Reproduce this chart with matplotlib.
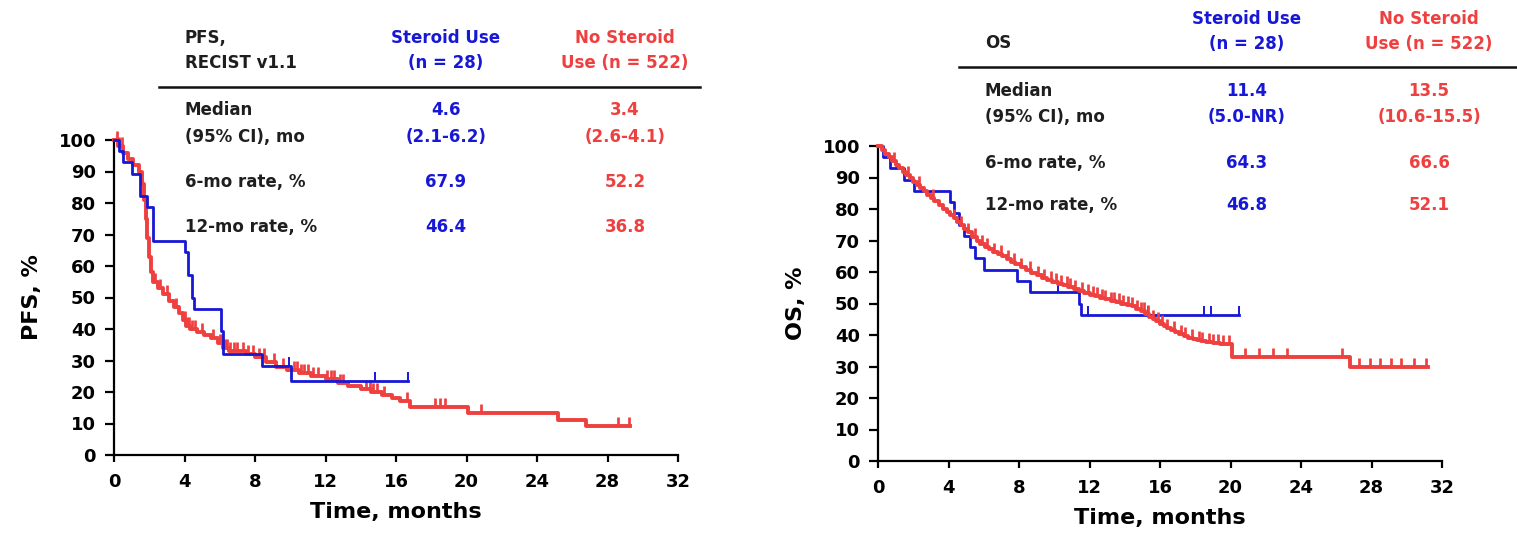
import numpy as np
import matplotlib
matplotlib.use("Agg")
import matplotlib.pyplot as plt

plt.rcParams['font.family'] = ['DejaVu Sans']
plt.rcParams['font.weight'] = 'bold'

BLUE = '#1717d6'
RED = '#ef4040'

# PFS, steroid use (step times in months, % after step)
pfs_st_t = [0, 0.3, 0.5, 1.0, 1.5, 1.9, 2.2, 4.0, 4.2, 4.4, 4.55, 6.05, 6.2, 8.4, 10.05, 16.7]
pfs_st_s = [100, 96.4, 92.9, 89.3, 82.1, 78.6, 67.9, 64.3, 57.1, 50.0, 46.4, 39.3, 32.1, 28.1, 23.4, 23.4]
pfs_st_cens = [9.95, 14.8, 16.7]

# PFS, no steroid use
pfs_no_t = [0, 0.2, 0.5, 0.8, 1.1, 1.4, 1.6, 1.7, 1.8, 1.9, 2.0, 2.1, 2.2, 2.5, 2.8, 3.1, 3.4,
            3.7, 3.9, 4.1, 4.3, 4.7, 5.1, 5.5, 5.9, 6.2, 6.5, 7.5, 8.0, 8.6, 9.2, 9.8, 10.5,
            11.2, 12.0, 12.7, 13.3, 14.0, 14.6, 15.2, 15.8, 16.2, 16.8, 20.1, 25.2, 26.8, 29.3]
pfs_no_s = [100, 98, 96, 94, 92, 90, 86, 81, 75, 69, 63, 58, 55, 53, 51, 49, 47,
            45, 43, 41, 40, 39, 38, 37, 35.5, 34, 33, 32, 31, 29.5, 28, 27, 26,
            25, 24, 23, 22, 21, 20, 19, 18, 17, 15.2, 13.4, 11.2, 9.2, 9.2]
pfs_no_cens = [0.15, 0.3, 0.45, 2.3, 2.6, 3.0, 3.5, 4.0, 4.15, 4.25, 4.4, 4.6, 5.0, 5.6, 6.0,
               6.1, 6.3, 6.4, 6.6, 6.8, 7.0, 7.3, 7.6, 7.9, 8.2, 8.5, 9.1, 9.6, 10.2, 10.4,
               10.6, 10.8, 11.0, 11.3, 11.6, 12.1, 12.3, 12.5, 12.8, 13.0, 14.3, 14.5, 14.7,
               14.9, 15.3, 16.6, 18.2, 18.5, 18.8, 20.8, 28.6, 29.2]

# OS, steroid use
os_st_t = [0, 0.3, 0.7, 1.5, 2.05, 4.1, 4.3, 4.6, 4.9, 5.2, 5.5, 6.0, 7.9, 8.6, 11.4, 11.5, 20.5]
os_st_s = [100, 96.4, 92.9, 89.3, 85.7, 82.1, 78.6, 75.0, 71.4, 67.9, 64.3, 60.7, 57.1, 53.6, 50.0, 46.4, 46.4]
os_st_cens = [10.2, 11.9, 15.3, 18.5, 18.9, 20.5]

# OS, no steroid use
os_no_t = [0, 0.2, 0.4, 0.6, 0.8, 1.0, 1.2, 1.4, 1.6, 1.8, 2.0, 2.2, 2.4, 2.6, 2.8, 3.0,
           3.2, 3.45, 3.7, 3.9, 4.1, 4.3, 4.5, 4.7, 4.9, 5.1, 5.35, 5.6, 5.8, 6.05, 6.3,
           6.55, 6.8, 7.05, 7.3, 7.55, 7.8, 8.1, 8.4, 8.7, 9.0, 9.3, 9.6, 9.9, 10.2, 10.5,
           10.8, 11.1, 11.4, 11.7, 12.0, 12.3, 12.6, 12.9, 13.2, 13.5, 13.8, 14.1, 14.4,
           14.65, 14.9, 15.15, 15.4, 15.6, 15.8, 16.0, 16.2, 16.4, 16.6, 16.85, 17.1,
           17.35, 17.6, 17.85, 18.1, 18.35, 18.6, 19.0, 19.4, 20.1, 26.8, 31.2]
os_no_s = [100, 98.8, 97.6, 96.4, 95.2, 94.1, 93, 91.9, 90.8, 89.7, 88.6, 87.6, 86.6, 85.6, 84.6, 83.6,
           82.6, 81.3, 80, 79, 78, 77, 76, 75, 73.8, 72.6, 71.2, 70, 69, 68, 67.3,
           66.5, 65.8, 65, 64.2, 63.3, 62.5, 61.5, 60.5, 59.7, 58.9, 58.2, 57.5, 56.9, 56.3, 55.8,
           55.2, 54.6, 54, 53.4, 52.8, 52.3, 51.8, 51.3, 50.8, 50.4, 50, 49.6, 49.1,
           48.3, 47.5, 46.6, 45.7, 45, 44.3, 43.6, 42.9, 42.3, 41.7, 41, 40.3,
           39.7, 39.2, 38.8, 38.4, 38.1, 37.8, 37.4, 37, 33, 30, 30]
os_no_cens = [0.9, 1.7, 2.3, 3.1, 4.3, 4.7, 5.1, 5.5, 5.9, 6.2, 6.6, 7.0, 7.4, 7.7, 8.1, 8.6,
              9.1, 9.4, 9.8, 10.1, 10.4, 10.7, 10.9, 11.2, 11.6, 11.9, 12.2, 12.4, 12.7, 12.9,
              13.2, 13.4, 13.7, 13.9, 14.2, 14.4, 14.7, 14.9, 15.1, 15.3, 15.6, 15.9, 16.1,
              16.4, 16.8, 17.2, 17.4, 17.8, 18.2, 18.4, 18.8, 19.0, 19.3, 19.6, 19.9, 20.8,
              21.6, 22.4, 23.2, 26.3, 27.3, 27.9, 28.5, 29.1, 29.7, 30.4, 31.1]

# tables
pfs_title = ["PFS,", "RECIST v1.1"]
os_title = ["OS"]
col_heads = [["Steroid Use", "(n = 28)"], ["No Steroid", "Use (n = 522)"]]
row_names = [["Median", "(95% CI), mo"], ["6-mo rate, %"], ["12-mo rate, %"]]
pfs_steroid = [["4.6", "(2.1-6.2)"], ["67.9"], ["46.4"]]
pfs_nosteroid = [["3.4", "(2.6-4.1)"], ["52.2"], ["36.8"]]
os_steroid = [["11.4", "(5.0-NR)"], ["64.3"], ["46.8"]]
os_nosteroid = [["13.5", "(10.6-15.5)"], ["66.6"], ["52.1"]]

W, H = 1517, 534
fig = plt.figure(figsize=(W / 100, H / 100), dpi=100)


def km(ax, t, s, cens, color, lw):
    t = np.array(t)
    s = np.array(s)
    ax.step(t, s, where='post', color=color, lw=lw, clip_on=False, zorder=3)
    c = np.array(cens)
    idx = np.searchsorted(t, c, side='right') - 1
    ax.plot(c, s[idx], ls='none', marker=[(0, 0), (0, 1)], ms=13, mew=lw * 0.7,
            color=color, clip_on=False, zorder=3)


def setup(ax, ylabel):
    ax.set_xlim(0, 32)
    ax.set_ylim(0, 100)
    ax.set_xticks(np.arange(0, 33, 4))
    ax.set_yticks(np.arange(0, 101, 10))
    for sp in ['top', 'right']:
        ax.spines[sp].set_visible(False)
    for sp in ['left', 'bottom']:
        ax.spines[sp].set_linewidth(1.6)
    ax.tick_params(axis='both', direction='out', width=1.6, labelsize=13)
    ax.tick_params(axis='x', length=5, pad=8)
    ax.tick_params(axis='y', length=6.5, pad=6.5)
    for lab in ax.get_xticklabels() + ax.get_yticklabels():
        lab.set_fontweight('bold')
    ax.set_xlabel("Time, months", fontsize=16, fontweight='bold', labelpad=8)
    ax.set_ylabel(ylabel, fontsize=16, fontweight='bold')
    ax.yaxis.set_label_coords(-0.128, 0.5)


def txt(x, y, s, color='#1e1e1e', ha='left'):
    fig.text(x / W, 1 - y / H, s, ha=ha, va='center', color=color, fontsize=12, fontweight='bold')


def table(title, title_y, head_y, line_y, line_x, lab_x, col_x, row_y, steroid, nosteroid):
    for i, s in enumerate(title):
        txt(lab_x, title_y[i], s)
    for j, head in enumerate(col_heads):
        col = BLUE if j == 0 else RED
        for i, s in enumerate(head):
            txt(col_x[j], head_y[i], s, color=col, ha='center')
    fig.add_artist(plt.Line2D([line_x[0] / W, line_x[1] / W], [1 - line_y / H, 1 - line_y / H],
                              color='#111111', lw=1.8))
    for r, name in enumerate(row_names):
        for i, s in enumerate(name):
            txt(lab_x, row_y[r][i], s)
        for i, s in enumerate(steroid[r]):
            txt(col_x[0], row_y[r][i], s, color=BLUE, ha='center')
        for i, s in enumerate(nosteroid[r]):
            txt(col_x[1], row_y[r][i], s, color=RED, ha='center')


ax1 = fig.add_axes([114 / W, 79 / H, 564 / W, 315 / H])
setup(ax1, "PFS, %")
km(ax1, pfs_no_t, pfs_no_s, pfs_no_cens, RED, 2.8)
km(ax1, pfs_st_t, pfs_st_s, pfs_st_cens, BLUE, 2.0)

ax2 = fig.add_axes([878 / W, 73 / H, 564 / W, 315 / H])
setup(ax2, "OS, %")
km(ax2, os_st_t, os_st_s, os_st_cens, BLUE, 2.0)
km(ax2, os_no_t, os_no_s, os_no_cens, RED, 2.8)

table(pfs_title, [38, 63], [38, 63], 87, (159, 700), 185, (446, 625),
      [[110, 137], [182], [227]], pfs_steroid, pfs_nosteroid)
table(os_title, [43], [19, 44], 67, (959, 1517), 985, (1247, 1429),
      [[91, 117], [163], [205]], os_steroid, os_nosteroid)

fig.savefig("out.png", dpi=100)
